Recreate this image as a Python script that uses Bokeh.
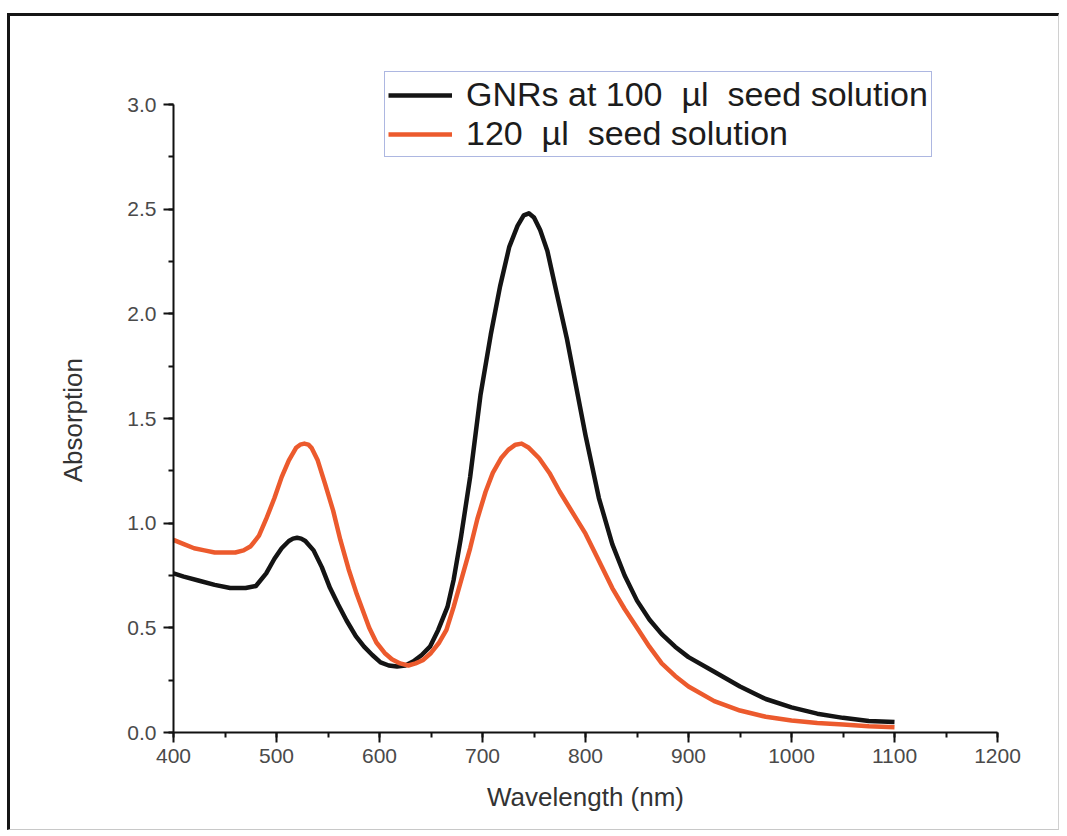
from bokeh.plotting import figure
from bokeh.models import Range1d, Legend, LegendItem, FixedTicker
from bokeh.embed import file_html
from bokeh.resources import INLINE

# ---- data ----
wl_100 = [400, 410, 425, 440, 455, 470, 480, 490, 498, 505, 512, 516, 520, 524, 528, 536, 544,
          552, 560, 568, 577, 585, 593, 601, 609, 617, 625, 633, 641, 649, 657, 666,
          672, 679, 688, 698, 708, 717, 726, 734, 740, 745, 750, 756, 763, 772, 782,
          791, 800, 813, 826, 838, 850, 862, 874, 887, 900, 925, 950, 975, 1000, 1025,
          1050, 1075, 1100]
abs_100 = [0.76, 0.745, 0.725, 0.705, 0.69, 0.69, 0.70, 0.76, 0.83, 0.88, 0.915, 0.926, 0.93, 0.926,
           0.915, 0.87, 0.79, 0.69, 0.61, 0.535, 0.46, 0.41, 0.37, 0.335, 0.32, 0.315, 0.32, 0.34,
           0.37, 0.41, 0.49, 0.60, 0.73, 0.93, 1.22, 1.61, 1.90, 2.13, 2.32, 2.42, 2.47, 2.48,
           2.46, 2.40, 2.30, 2.10, 1.88, 1.65, 1.42, 1.12, 0.90, 0.75, 0.63, 0.54, 0.47, 0.41,
           0.36, 0.29, 0.22, 0.16, 0.12, 0.09, 0.07, 0.055, 0.05]

wl_120 = [400, 410, 420, 430, 440, 450, 460, 468, 475, 483, 490, 498, 505, 512, 519, 523, 527,
          531, 534, 540, 547, 555, 562, 570, 578, 590, 597, 605, 612, 620, 628, 635, 642, 650,
          658, 665, 672, 680, 688, 695, 703, 710, 718, 725, 732, 738, 745, 755, 765, 775,
          790, 800, 813, 826, 838, 850, 862, 874, 887, 900, 925, 950, 975, 1000, 1025, 1050,
          1075, 1100]
abs_120 = [0.92, 0.90, 0.88, 0.87, 0.86, 0.86, 0.86, 0.87, 0.89, 0.94, 1.02, 1.12, 1.22, 1.30,
           1.36, 1.375, 1.38, 1.375, 1.36, 1.30, 1.19, 1.06, 0.92, 0.78, 0.66, 0.50, 0.43, 0.38, 0.35, 0.33,
           0.32, 0.33, 0.345, 0.38, 0.43, 0.49, 0.60, 0.74, 0.88, 1.02, 1.15, 1.24, 1.31, 1.35,
           1.375, 1.38, 1.36, 1.31, 1.24, 1.15, 1.03, 0.95, 0.82, 0.69, 0.59, 0.50, 0.41, 0.33,
           0.27, 0.22, 0.15, 0.105, 0.075, 0.057, 0.045, 0.038, 0.03, 0.025]

series_labels = ["GNRs at 100  \u00b5l  seed solution", "120  \u00b5l  seed solution"]
x_ticks = [400, 500, 600, 700, 800, 900, 1000, 1100, 1200]
y_ticks = [0.0, 0.5, 1.0, 1.5, 2.0, 2.5, 3.0]

FONT = "Liberation Sans"

# frame extends above 3.0 so the legend (which sits partly above the axis top) is not clipped
p = figure(width=1052, height=817, output_backend="svg", toolbar_location=None,
           x_range=Range1d(400, 1200), y_range=Range1d(0, 3.0 * 668 / 628),
           min_border_left=163, min_border_right=65, min_border_top=48, min_border_bottom=101)
p.styles = {"margin-left": "7px", "margin-top": "13px",
            "border-top": "3px solid #151515", "border-left": "3px solid #151515",
            "border-right": "1px solid #d0d0d0", "border-bottom": "1px solid #c8c8c8"}
p.outline_line_color = None
p.grid.visible = False
p.background_fill_color = "white"
p.border_fill_color = "white"

r1 = p.line(wl_100, abs_100, line_color="#141414", line_width=4.5, line_join="round")
r2 = p.line(wl_120, abs_120, line_color="#ec5a2d", line_width=4.5, line_join="round")

for ax in (p.xaxis[0], p.yaxis[0]):
    ax.axis_line_width = 2
    ax.axis_line_color = "#111111"
    ax.major_tick_line_width = 2
    ax.minor_tick_line_width = 2
    ax.major_tick_line_color = "#111111"
    ax.minor_tick_line_color = "#111111"
    ax.major_tick_in = 0
    ax.major_tick_out = 10
    ax.minor_tick_in = 0
    ax.minor_tick_out = 5
    ax.major_label_text_font = FONT
    ax.major_label_text_font_size = "21px"
    ax.major_label_text_color = "#4a4a4a"
    ax.axis_label_text_font = FONT
    ax.axis_label_text_font_size = "26px"
    ax.axis_label_text_font_style = "normal"
    ax.axis_label_text_color = "#333333"

p.xaxis[0].ticker = FixedTicker(ticks=x_ticks, minor_ticks=list(range(400, 1201, 50)))
p.yaxis[0].ticker = FixedTicker(ticks=y_ticks, minor_ticks=[i * 0.25 for i in range(13)])
p.yaxis[0].bounds = (0, 3.0)
p.xaxis[0].major_label_overrides = {t: str(t) for t in x_ticks}
p.yaxis[0].major_label_overrides = {t: f"{t:.1f}" for t in y_ticks}
p.xaxis[0].axis_label = "Wavelength (nm)"
# non-breaking spaces keep the label centred on the 0-3 axis span rather than on the taller frame
p.yaxis[0].axis_label = "Absorption" + "\u00a0" * 6
p.xaxis[0].major_label_standoff = 6
p.yaxis[0].major_label_standoff = 7
p.xaxis[0].axis_label_standoff = 16
p.yaxis[0].axis_label_standoff = 36

legend = Legend(items=[LegendItem(label=series_labels[0], renderers=[r1]),
                       LegendItem(label=series_labels[1], renderers=[r2])],
                location=(211, 575))
legend.label_text_font = FONT
legend.label_text_font_size = "34px"
legend.label_text_color = "#1c1c1c"
legend.glyph_width = 64
legend.glyph_height = 36
legend.label_height = 36
legend.label_standoff = 14
legend.padding = 3
legend.spacing = 0
legend.margin = 0
legend.border_line_color = "#5b6fc4"
legend.border_line_width = 1.5
legend.background_fill_color = "white"
legend.background_fill_alpha = 1.0
p.add_layout(legend, "center")

open("out.html", "w").write(file_html(p, INLINE))
